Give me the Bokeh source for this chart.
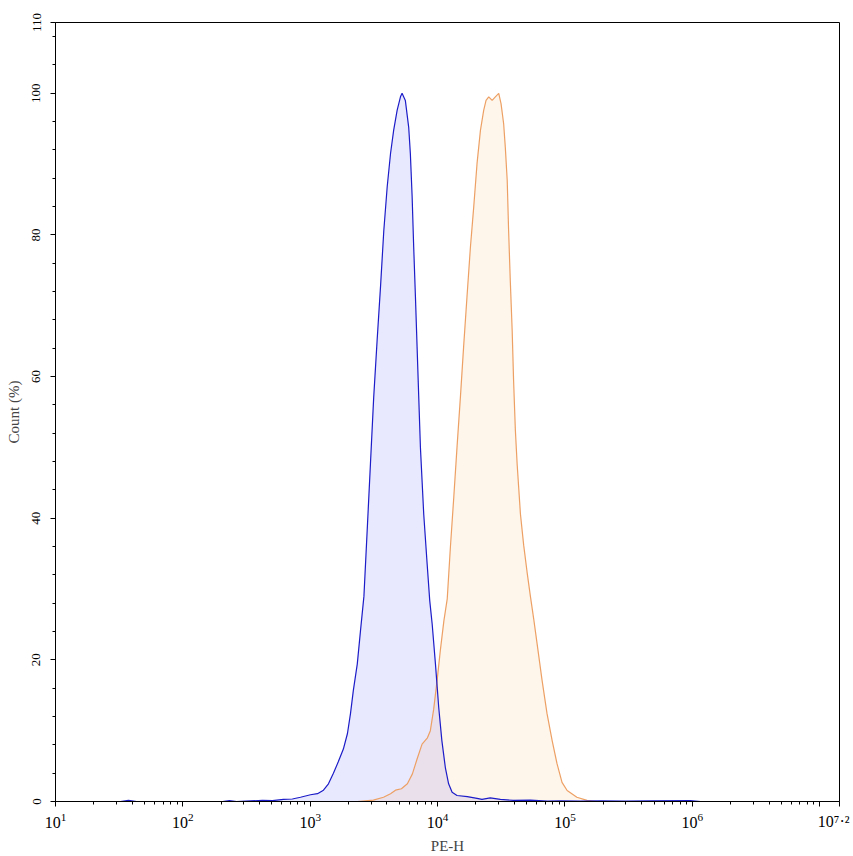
from bokeh.plotting import figure
from bokeh.models import Range1d, FixedTicker
from bokeh.embed import file_html
from bokeh.resources import INLINE

# ---------------- data ----------------
# Blue histogram (control): PE-H value, Count (%)
blue_pe_h = [10, 32.4, 37.4, 43.3, 205, 232, 264, 340, 422, 505, 617, 724, 838,
             1005, 1140, 1270, 1390, 1520, 1660, 1820, 1960, 2070, 2180, 2340,
             2480, 2640, 2800, 2970, 3150, 3350, 3560, 3780, 4020, 4270, 4520,
             4810, 5110, 5260, 5580, 5930, 6110, 6310, 6490, 6700, 6900, 7110,
             7330, 7780, 8280, 8670, 9060, 9620, 10200, 10800, 11500, 12200,
             13000, 14200, 17100, 20400, 22300, 25900, 31100, 39400, 53500,
             72800, 92000, 132000, 190000, 298000, 468000, 964000, 1160000]
blue_count = [0, 0, 0.15, 0, 0, 0.12, 0, 0.08, 0.15, 0.12, 0.3, 0.35, 0.6,
              0.95, 1.1, 1.6, 2.5, 4.0, 5.6, 7.4, 9.6, 12.4, 15.7, 19.4,
              24.1, 29.0, 38.3, 47.7, 57.1, 65.1, 72.6, 80.6, 86.8, 91.5, 94.8,
              97.6, 99.5, 100, 99.0, 95.2, 91.5, 85.4, 78.3, 71.2, 64.2, 57.1,
              50.0, 40.6, 33.5, 28.4, 25.1, 19.4, 13.3, 8.6, 4.8, 2.5,
              1.3, 0.85, 0.7, 0.45, 0.3, 0.5, 0.3, 0.15, 0.2,
              0.05, 0.1, 0.05, 0.1, 0.05, 0.1, 0.12, 0]

# Orange histogram (stained): PE-H value, Count (%)
orange_pe_h = [2340, 3130, 3760, 4270, 4670, 5200, 5790, 6340, 6900, 7550, 8320,
               8770, 9310, 9910, 10500, 11200, 11900, 12600, 13400, 14200, 15100,
               16000, 17000, 18100, 19200, 20400, 21700, 23000, 24000, 25200,
               26800, 28400, 30200, 31500, 33000, 34000, 35200, 36100, 37200,
               38500, 39500, 40800, 42100, 44700, 47400, 50400, 53500, 56800,
               60400, 66100, 72300, 79300, 86700, 94800, 104000, 124000, 149000,
               179000]
orange_count = [0, 0.2, 0.6, 1.1, 1.6, 1.8, 2.5, 3.9, 6.0, 8.1, 9.0,
                10.0, 13.0, 17.1, 21.3, 25.5, 28.6, 35.9, 43.0, 50.0, 57.1,
                64.2, 71.2, 78.3, 83.9, 90.1, 94.8, 97.6, 99.0, 99.5,
                99.0, 99.5, 100, 98.5, 95.7, 92.4, 87.7, 80.6, 73.6,
                66.5, 59.4, 52.4, 47.7, 40.6, 36.2, 32.4, 29.0, 25.8,
                22.3, 17.1, 12.4, 8.6, 5.3, 2.7, 1.55, 0.6, 0.15,
                0]

# axes
x_start = 10
x_end = 1.43e7
x_major = [x_end, 1e1, 1e2, 1e3, 1e4, 1e5, 1e6, 1e7]
x_minor = [m * 10 ** d for d in range(1, 7) for m in range(2, 10)]
x_label_overrides = {x_end: "10\u2077\u00b7\u00b2\u00a0", 1e7: ""}
y_major = [0, 20, 40, 60, 80, 100, 110]
y_minor = [4, 8, 12, 16, 24, 28, 32, 36, 44, 48, 52, 56, 64, 68, 72, 76,
           84, 88, 92, 96, 104, 108]
x_title = "PE-H"
y_title = "Count (%)"

FONT = "Liberation Serif"

p = figure(width=853, height=856, x_axis_type="log",
           x_range=Range1d(x_start, x_end), y_range=Range1d(0, 110),
           output_backend="svg", toolbar_location=None,
           min_border_left=55, min_border_right=14, min_border_top=22,
           min_border_bottom=55)

p.xgrid.visible = False
p.ygrid.visible = False
p.outline_line_color = "black"
p.outline_line_width = 1
p.background_fill_color = "white"
p.border_fill_color = "white"

# fills and outlines
p.varea(x=blue_pe_h, y1=0, y2=blue_count, fill_color="#0000ff", fill_alpha=0.09)
p.varea(x=orange_pe_h, y1=0, y2=orange_count, fill_color="#f59b37", fill_alpha=0.1)
p.line(orange_pe_h, orange_count, line_color="#eda064", line_width=1.2)
p.line(blue_pe_h, blue_count, line_color="#1c1cc8", line_width=1.2)

# x axis
xa = p.xaxis[0]
xa.ticker = FixedTicker(ticks=x_major, minor_ticks=x_minor)
xa.major_label_overrides = x_label_overrides
xa.axis_label = x_title
xa.axis_label_text_font = FONT
xa.axis_label_text_font_style = "normal"
xa.axis_label_text_font_size = "15px"
xa.axis_label_standoff = 5
xa.major_label_text_font = FONT
xa.major_label_text_font_size = "16px"
xa.major_label_standoff = 6
xa.major_tick_out = 5
xa.major_tick_in = 0
xa.minor_tick_out = 3
xa.minor_tick_in = 0
xa.axis_line_color = "black"
xa.major_tick_line_color = "black"
xa.minor_tick_line_color = "black"
xa.major_label_text_color = "black"

# y axis
ya = p.yaxis[0]
ya.ticker = FixedTicker(ticks=y_major, minor_ticks=y_minor)
ya.major_label_orientation = "vertical"
ya.axis_label = y_title
ya.axis_label_text_font = FONT
ya.axis_label_text_font_style = "normal"
ya.axis_label_text_font_size = "15px"
ya.axis_label_standoff = 8
ya.major_label_text_font = FONT
ya.major_label_text_font_size = "13px"
ya.major_label_standoff = 10
ya.major_tick_out = 5
ya.major_tick_in = 0
ya.minor_tick_out = 3
ya.minor_tick_in = 0
ya.axis_line_color = "black"
ya.major_tick_line_color = "black"
ya.minor_tick_line_color = "black"
ya.major_label_text_color = "black"

open("out.html", "w").write(file_html(p, INLINE))
